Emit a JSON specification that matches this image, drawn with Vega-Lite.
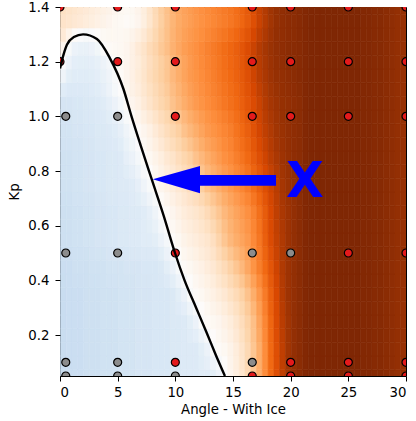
{
  "$schema": "https://vega.github.io/schema/vega-lite/v6.json",
  "width": 346,
  "height": 369,
  "autosize": {"type": "none"},
  "padding": {"left": 60, "top": 7, "right": 10, "bottom": 45},
  "background": "white",
  "config": {
    "font": "DejaVu Sans",
    "view": {"stroke": "#000000", "strokeWidth": 1},
    "axis": {
      "domain": false,
      "grid": false,
      "labelFont": "DejaVu Sans",
      "labelFontSize": 13.3,
      "labelColor": "#000000",
      "titleFont": "DejaVu Sans",
      "titleFontSize": 13.3,
      "titleFontWeight": "normal",
      "titleColor": "#000000",
      "tickColor": "#000000",
      "tickSize": 5,
      "tickWidth": 1
    },
    "axisX": {"labelPadding": 4, "titlePadding": 4},
    "axisY": {"labelPadding": 6, "titlePadding": 6}
  },
  "datasets": {
    "bg": [
      {"kp": 0.025, "angle": [0,0.5,1,1.5,2,2.5,3,3.5,4,4.5,5,5.5,6,6.5,7,7.5,8,8.5,9,9.5,10,10.5,11,11.5,12,12.5,13,13.5,14,14.5,15,15.5,16,16.5,17,17.5,18,18.5,19,19.5,20,20.5,21,21.5,22,22.5,23,23.5,24,24.5,25,25.5,26,26.5,27,27.5,28,28.5,29,29.5],
       "v": [-1.9,-1.8,-1.8,-1.8,-1.7,-1.7,-1.7,-1.6,-1.6,-1.6,-1.5,-1.5,-1.5,-1.4,-1.4,-1.4,-1.3,-1.3,-1.3,-1.2,-1.2,-1.1,-1.1,-1.1,-1.0,-1.0,-0.9,-0.6,-0.1,0.3,0.6,1.0,1.6,2.3,3.0,4.0,5.0,5.8,6.5,7.1,7.5,7.7,7.9,8,8,8,8,8,8,8,8,8,7.9,7.9,7.8,7.8,7.7,7.6,7.5,7.4]},
      {"kp": 0.075, "angle": [0,0.5,1,1.5,2,2.5,3,3.5,4,4.5,5,5.5,6,6.5,7,7.5,8,8.5,9,9.5,10,10.5,11,11.5,12,12.5,13,13.5,14,14.5,15,15.5,16,16.5,17,17.5,18,18.5,19,19.5,20,20.5,21,21.5,22,22.5,23,23.5,24,24.5,25,25.5,26,26.5,27,27.5,28,28.5,29,29.5],
       "v": [-1.9,-1.8,-1.8,-1.8,-1.7,-1.7,-1.7,-1.6,-1.6,-1.6,-1.5,-1.5,-1.5,-1.4,-1.4,-1.4,-1.3,-1.3,-1.3,-1.2,-1.2,-1.1,-1.1,-1.1,-0.95,-0.8,-0.5,-0.25,0.05,0.35,0.65,1.05,1.6,2.3,3.0,4.0,5.0,5.8,6.5,7.1,7.5,7.7,7.9,8,8,8,8,8,8,8,8,8,7.9,7.9,7.8,7.8,7.7,7.6,7.5,7.4]},
      {"kp": 0.125, "angle": [0,0.5,1,1.5,2,2.5,3,3.5,4,4.5,5,5.5,6,6.5,7,7.5,8,8.5,9,9.5,10,10.5,11,11.5,12,12.5,13,13.5,14,14.5,15,15.5,16,16.5,17,17.5,18,18.5,19,19.5,20,20.5,21,21.5,22,22.5,23,23.5,24,24.5,25,25.5,26,26.5,27,27.5,28,28.5,29,29.5],
       "v": [-1.9,-1.8,-1.8,-1.8,-1.7,-1.7,-1.7,-1.6,-1.6,-1.6,-1.5,-1.5,-1.5,-1.4,-1.4,-1.4,-1.3,-1.3,-1.3,-1.2,-1.2,-1.1,-1.1,-1.1,-0.9,-0.6,-0.15,0.1,0.2,0.4,0.7,1.1,1.6,2.3,3.0,4.0,5.0,5.8,6.5,7.1,7.5,7.7,7.9,8,8,8,8,8,8,8,8,8,7.9,7.9,7.8,7.8,7.7,7.6,7.5,7.4]},
      {"kp": 0.175, "angle": [0,0.5,1,1.5,2,2.5,3,3.5,4,4.5,5,5.5,6,6.5,7,7.5,8,8.5,9,9.5,10,10.5,11,11.5,12,12.5,13,13.5,14,14.5,15,15.5,16,16.5,17,17.5,18,18.5,19,19.5,20,20.5,21,21.5,22,22.5,23,23.5,24,24.5,25,25.5,26,26.5,27,27.5,28,28.5,29,29.5],
       "v": [-1.9,-1.8,-1.8,-1.8,-1.7,-1.7,-1.7,-1.6,-1.6,-1.6,-1.5,-1.5,-1.5,-1.4,-1.4,-1.4,-1.3,-1.3,-1.3,-1.2,-1.2,-1.1,-1.0,-0.85,-0.55,-0.25,0.03,0.2,0.35,0.55,0.85,1.25,1.75,2.4,3.15,4.1,5.05,5.85,6.55,7.1,7.5,7.7,7.9,8,8,8,8,8,8,8,8,8,7.9,7.9,7.8,7.8,7.7,7.6,7.5,7.4]},
      {"kp": 0.225, "angle": [0,0.5,1,1.5,2,2.5,3,3.5,4,4.5,5,5.5,6,6.5,7,7.5,8,8.5,9,9.5,10,10.5,11,11.5,12,12.5,13,13.5,14,14.5,15,15.5,16,16.5,17,17.5,18,18.5,19,19.5,20,20.5,21,21.5,22,22.5,23,23.5,24,24.5,25,25.5,26,26.5,27,27.5,28,28.5,29,29.5],
       "v": [-1.9,-1.8,-1.8,-1.8,-1.7,-1.7,-1.7,-1.6,-1.6,-1.6,-1.5,-1.5,-1.5,-1.4,-1.4,-1.4,-1.3,-1.3,-1.3,-1.2,-1.2,-1.1,-0.9,-0.6,-0.15,0.1,0.2,0.3,0.5,0.7,1.0,1.4,1.9,2.5,3.3,4.2,5.1,5.9,6.6,7.1,7.5,7.7,7.9,8,8,8,8,8,8,8,8,8,7.9,7.9,7.8,7.8,7.7,7.6,7.5,7.4]},
      {"kp": 0.275, "angle": [0,0.5,1,1.5,2,2.5,3,3.5,4,4.5,5,5.5,6,6.5,7,7.5,8,8.5,9,9.5,10,10.5,11,11.5,12,12.5,13,13.5,14,14.5,15,15.5,16,16.5,17,17.5,18,18.5,19,19.5,20,20.5,21,21.5,22,22.5,23,23.5,24,24.5,25,25.5,26,26.5,27,27.5,28,28.5,29,29.5],
       "v": [-1.9,-1.8,-1.8,-1.8,-1.7,-1.7,-1.7,-1.6,-1.6,-1.6,-1.5,-1.5,-1.5,-1.4,-1.4,-1.4,-1.3,-1.3,-1.3,-1.2,-1.05,-0.85,-0.55,-0.25,0.03,0.2,0.35,0.5,0.7,0.95,1.25,1.65,2.15,2.75,3.5,4.35,5.2,5.95,6.65,7.15,7.5,7.7,7.9,8,8,8,8,8,8,8,8,8,7.9,7.9,7.8,7.8,7.7,7.6,7.5,7.4]},
      {"kp": 0.325, "angle": [0,0.5,1,1.5,2,2.5,3,3.5,4,4.5,5,5.5,6,6.5,7,7.5,8,8.5,9,9.5,10,10.5,11,11.5,12,12.5,13,13.5,14,14.5,15,15.5,16,16.5,17,17.5,18,18.5,19,19.5,20,20.5,21,21.5,22,22.5,23,23.5,24,24.5,25,25.5,26,26.5,27,27.5,28,28.5,29,29.5],
       "v": [-1.9,-1.8,-1.8,-1.8,-1.7,-1.7,-1.7,-1.6,-1.6,-1.6,-1.5,-1.5,-1.5,-1.4,-1.4,-1.4,-1.3,-1.3,-1.3,-1.2,-0.9,-0.6,-0.15,0.1,0.2,0.35,0.5,0.7,0.9,1.2,1.5,1.9,2.4,3.0,3.7,4.5,5.3,6.0,6.7,7.2,7.5,7.7,7.9,8,8,8,8,8,8,8,8,8,7.9,7.9,7.8,7.8,7.7,7.6,7.5,7.4]},
      {"kp": 0.375, "angle": [0,0.5,1,1.5,2,2.5,3,3.5,4,4.5,5,5.5,6,6.5,7,7.5,8,8.5,9,9.5,10,10.5,11,11.5,12,12.5,13,13.5,14,14.5,15,15.5,16,16.5,17,17.5,18,18.5,19,19.5,20,20.5,21,21.5,22,22.5,23,23.5,24,24.5,25,25.5,26,26.5,27,27.5,28,28.5,29,29.5],
       "v": [-1.85,-1.8,-1.75,-1.75,-1.7,-1.65,-1.65,-1.6,-1.55,-1.55,-1.5,-1.45,-1.45,-1.4,-1.35,-1.35,-1.3,-1.25,-1.1,-0.9,-0.55,-0.25,0.03,0.22,0.35,0.52,0.7,0.95,1.2,1.55,1.9,2.3,2.8,3.4,4.05,4.75,5.45,6.1,6.75,7.2,7.5,7.7,7.9,8,8,8,8,8,8,8,8,8,7.9,7.9,7.8,7.8,7.7,7.6,7.5,7.4]},
      {"kp": 0.425, "angle": [0,0.5,1,1.5,2,2.5,3,3.5,4,4.5,5,5.5,6,6.5,7,7.5,8,8.5,9,9.5,10,10.5,11,11.5,12,12.5,13,13.5,14,14.5,15,15.5,16,16.5,17,17.5,18,18.5,19,19.5,20,20.5,21,21.5,22,22.5,23,23.5,24,24.5,25,25.5,26,26.5,27,27.5,28,28.5,29,29.5],
       "v": [-1.8,-1.8,-1.7,-1.7,-1.7,-1.6,-1.6,-1.6,-1.5,-1.5,-1.5,-1.4,-1.4,-1.4,-1.3,-1.3,-1.3,-1.2,-0.9,-0.6,-0.2,0.1,0.2,0.35,0.5,0.7,0.9,1.2,1.5,1.9,2.3,2.7,3.2,3.8,4.4,5.0,5.6,6.2,6.8,7.2,7.5,7.7,7.9,8,8,8,8,8,8,8,8,8,7.9,7.9,7.8,7.8,7.7,7.6,7.5,7.4]},
      {"kp": 0.475, "angle": [0,0.5,1,1.5,2,2.5,3,3.5,4,4.5,5,5.5,6,6.5,7,7.5,8,8.5,9,9.5,10,10.5,11,11.5,12,12.5,13,13.5,14,14.5,15,15.5,16,16.5,17,17.5,18,18.5,19,19.5,20,20.5,21,21.5,22,22.5,23,23.5,24,24.5,25,25.5,26,26.5,27,27.5,28,28.5,29,29.5],
       "v": [-1.75,-1.75,-1.65,-1.65,-1.6,-1.55,-1.5,-1.5,-1.4,-1.4,-1.35,-1.3,-1.25,-1.25,-1.15,-1.15,-1.1,-0.9,-0.6,-0.28,0,0.25,0.38,0.52,0.68,0.85,1.1,1.5,1.9,2.3,2.65,3.0,3.4,3.95,4.5,5.15,5.75,6.3,6.8,7.2,7.5,7.7,7.9,8,8,8,8,8,8,8,8,8,7.9,7.9,7.8,7.8,7.7,7.6,7.5,7.4]},
      {"kp": 0.525, "angle": [0,0.5,1,1.5,2,2.5,3,3.5,4,4.5,5,5.5,6,6.5,7,7.5,8,8.5,9,9.5,10,10.5,11,11.5,12,12.5,13,13.5,14,14.5,15,15.5,16,16.5,17,17.5,18,18.5,19,19.5,20,20.5,21,21.5,22,22.5,23,23.5,24,24.5,25,25.5,26,26.5,27,27.5,28,28.5,29,29.5],
       "v": [-1.7,-1.7,-1.6,-1.6,-1.5,-1.5,-1.4,-1.4,-1.3,-1.3,-1.2,-1.2,-1.1,-1.1,-1.0,-1.0,-0.9,-0.6,-0.3,0.05,0.2,0.4,0.55,0.7,0.85,1.0,1.3,1.8,2.3,2.7,3.0,3.3,3.6,4.1,4.6,5.3,5.9,6.4,6.8,7.2,7.5,7.7,7.9,8,8,8,8,8,8,8,8,8,7.9,7.9,7.8,7.8,7.7,7.6,7.5,7.4]},
      {"kp": 0.575, "angle": [0,0.5,1,1.5,2,2.5,3,3.5,4,4.5,5,5.5,6,6.5,7,7.5,8,8.5,9,9.5,10,10.5,11,11.5,12,12.5,13,13.5,14,14.5,15,15.5,16,16.5,17,17.5,18,18.5,19,19.5,20,20.5,21,21.5,22,22.5,23,23.5,24,24.5,25,25.5,26,26.5,27,27.5,28,28.5,29,29.5],
       "v": [-1.7,-1.7,-1.6,-1.6,-1.5,-1.5,-1.4,-1.4,-1.3,-1.3,-1.2,-1.2,-1.1,-1.1,-1.0,-0.9,-0.7,-0.35,-0.1,0.18,0.35,0.55,0.7,0.85,1.02,1.25,1.6,2.05,2.5,2.85,3.15,3.45,3.75,4.2,4.7,5.35,5.95,6.45,6.85,7.2,7.5,7.7,7.9,8,8,8,8,8,8,8,8,8,7.9,7.9,7.8,7.8,7.7,7.6,7.5,7.4]},
      {"kp": 0.625, "angle": [0,0.5,1,1.5,2,2.5,3,3.5,4,4.5,5,5.5,6,6.5,7,7.5,8,8.5,9,9.5,10,10.5,11,11.5,12,12.5,13,13.5,14,14.5,15,15.5,16,16.5,17,17.5,18,18.5,19,19.5,20,20.5,21,21.5,22,22.5,23,23.5,24,24.5,25,25.5,26,26.5,27,27.5,28,28.5,29,29.5],
       "v": [-1.7,-1.7,-1.6,-1.6,-1.5,-1.5,-1.4,-1.4,-1.3,-1.3,-1.2,-1.2,-1.1,-1.1,-1.0,-0.8,-0.5,-0.1,0.1,0.3,0.5,0.7,0.85,1.0,1.2,1.5,1.9,2.3,2.7,3.0,3.3,3.6,3.9,4.3,4.8,5.4,6.0,6.5,6.9,7.2,7.5,7.7,7.9,8,8,8,8,8,8,8,8,8,7.9,7.9,7.8,7.8,7.7,7.6,7.5,7.4]},
      {"kp": 0.675, "angle": [0,0.5,1,1.5,2,2.5,3,3.5,4,4.5,5,5.5,6,6.5,7,7.5,8,8.5,9,9.5,10,10.5,11,11.5,12,12.5,13,13.5,14,14.5,15,15.5,16,16.5,17,17.5,18,18.5,19,19.5,20,20.5,21,21.5,22,22.5,23,23.5,24,24.5,25,25.5,26,26.5,27,27.5,28,28.5,29,29.5],
       "v": [-1.65,-1.65,-1.55,-1.55,-1.45,-1.45,-1.35,-1.35,-1.25,-1.25,-1.15,-1.15,-1.05,-0.95,-0.75,-0.5,-0.2,0.1,0.3,0.5,0.7,0.9,1.12,1.35,1.6,1.95,2.3,2.65,3.0,3.3,3.6,3.9,4.2,4.6,5.05,5.6,6.1,6.55,6.95,7.25,7.5,7.7,7.9,8,8,8,8,8,8,8,8,8,7.9,7.9,7.8,7.8,7.7,7.6,7.5,7.4]},
      {"kp": 0.725, "angle": [0,0.5,1,1.5,2,2.5,3,3.5,4,4.5,5,5.5,6,6.5,7,7.5,8,8.5,9,9.5,10,10.5,11,11.5,12,12.5,13,13.5,14,14.5,15,15.5,16,16.5,17,17.5,18,18.5,19,19.5,20,20.5,21,21.5,22,22.5,23,23.5,24,24.5,25,25.5,26,26.5,27,27.5,28,28.5,29,29.5],
       "v": [-1.6,-1.6,-1.5,-1.5,-1.4,-1.4,-1.3,-1.3,-1.2,-1.2,-1.1,-1.1,-1.0,-0.8,-0.5,-0.2,0.1,0.3,0.5,0.7,0.9,1.1,1.4,1.7,2.0,2.4,2.7,3.0,3.3,3.6,3.9,4.2,4.5,4.9,5.3,5.8,6.2,6.6,7.0,7.3,7.5,7.7,7.9,8,8,8,8,8,8,8,8,8,7.9,7.9,7.8,7.8,7.7,7.6,7.5,7.4]},
      {"kp": 0.775, "angle": [0,0.5,1,1.5,2,2.5,3,3.5,4,4.5,5,5.5,6,6.5,7,7.5,8,8.5,9,9.5,10,10.5,11,11.5,12,12.5,13,13.5,14,14.5,15,15.5,16,16.5,17,17.5,18,18.5,19,19.5,20,20.5,21,21.5,22,22.5,23,23.5,24,24.5,25,25.5,26,26.5,27,27.5,28,28.5,29,29.5],
       "v": [-1.6,-1.6,-1.5,-1.5,-1.4,-1.4,-1.3,-1.3,-1.2,-1.2,-1.1,-0.95,-0.8,-0.55,-0.22,0,0.25,0.45,0.7,0.9,1.15,1.4,1.7,2.05,2.35,2.7,3.0,3.3,3.6,3.85,4.15,4.45,4.75,5.15,5.55,6.0,6.4,6.75,7.1,7.35,7.55,7.7,7.9,8,8,8,8,8,8,8,8,8,7.9,7.9,7.8,7.8,7.7,7.6,7.5,7.4]},
      {"kp": 0.825, "angle": [0,0.5,1,1.5,2,2.5,3,3.5,4,4.5,5,5.5,6,6.5,7,7.5,8,8.5,9,9.5,10,10.5,11,11.5,12,12.5,13,13.5,14,14.5,15,15.5,16,16.5,17,17.5,18,18.5,19,19.5,20,20.5,21,21.5,22,22.5,23,23.5,24,24.5,25,25.5,26,26.5,27,27.5,28,28.5,29,29.5],
       "v": [-1.6,-1.6,-1.5,-1.5,-1.4,-1.4,-1.3,-1.3,-1.2,-1.2,-1.1,-0.8,-0.6,-0.3,0.05,0.2,0.4,0.6,0.9,1.1,1.4,1.7,2.0,2.4,2.7,3.0,3.3,3.6,3.9,4.1,4.4,4.7,5.0,5.4,5.8,6.2,6.6,6.9,7.2,7.4,7.6,7.7,7.9,8,8,8,8,8,8,8,8,8,7.9,7.9,7.8,7.8,7.7,7.6,7.5,7.4]},
      {"kp": 0.875, "angle": [0,0.5,1,1.5,2,2.5,3,3.5,4,4.5,5,5.5,6,6.5,7,7.5,8,8.5,9,9.5,10,10.5,11,11.5,12,12.5,13,13.5,14,14.5,15,15.5,16,16.5,17,17.5,18,18.5,19,19.5,20,20.5,21,21.5,22,22.5,23,23.5,24,24.5,25,25.5,26,26.5,27,27.5,28,28.5,29,29.5],
       "v": [-1.55,-1.55,-1.45,-1.45,-1.35,-1.35,-1.25,-1.25,-1.15,-1.1,-0.95,-0.65,-0.4,-0.1,0.18,0.35,0.6,0.85,1.15,1.4,1.7,2.05,2.35,2.7,3.0,3.3,3.55,3.8,4.05,4.25,4.55,4.85,5.15,5.55,5.95,6.35,6.7,7.0,7.25,7.45,7.6,7.7,7.9,8,8,8,8,8,8,8,8,8,7.9,7.9,7.8,7.8,7.7,7.6,7.5,7.4]},
      {"kp": 0.925, "angle": [0,0.5,1,1.5,2,2.5,3,3.5,4,4.5,5,5.5,6,6.5,7,7.5,8,8.5,9,9.5,10,10.5,11,11.5,12,12.5,13,13.5,14,14.5,15,15.5,16,16.5,17,17.5,18,18.5,19,19.5,20,20.5,21,21.5,22,22.5,23,23.5,24,24.5,25,25.5,26,26.5,27,27.5,28,28.5,29,29.5],
       "v": [-1.5,-1.5,-1.4,-1.4,-1.3,-1.3,-1.2,-1.2,-1.1,-1.0,-0.8,-0.5,-0.2,0.1,0.3,0.5,0.8,1.1,1.4,1.7,2.0,2.4,2.7,3.0,3.3,3.6,3.8,4.0,4.2,4.4,4.7,5.0,5.3,5.7,6.1,6.5,6.8,7.1,7.3,7.5,7.6,7.7,7.9,8,8,8,8,8,8,8,8,8,7.9,7.9,7.8,7.8,7.7,7.6,7.5,7.4]},
      {"kp": 0.975, "angle": [0,0.5,1,1.5,2,2.5,3,3.5,4,4.5,5,5.5,6,6.5,7,7.5,8,8.5,9,9.5,10,10.5,11,11.5,12,12.5,13,13.5,14,14.5,15,15.5,16,16.5,17,17.5,18,18.5,19,19.5,20,20.5,21,21.5,22,22.5,23,23.5,24,24.5,25,25.5,26,26.5,27,27.5,28,28.5,29,29.5],
       "v": [-1.45,-1.45,-1.35,-1.35,-1.25,-1.25,-1.15,-1.1,-0.95,-0.8,-0.55,-0.2,0.05,0.3,0.55,0.8,1.1,1.4,1.7,2.05,2.35,2.7,3.0,3.3,3.55,3.8,4.0,4.2,4.4,4.6,4.85,5.15,5.45,5.8,6.2,6.6,6.9,7.15,7.35,7.5,7.6,7.7,7.9,8,8,8,8,8,8,8,8,8,7.9,7.9,7.8,7.8,7.7,7.6,7.5,7.4]},
      {"kp": 1.025, "angle": [0,0.5,1,1.5,2,2.5,3,3.5,4,4.5,5,5.5,6,6.5,7,7.5,8,8.5,9,9.5,10,10.5,11,11.5,12,12.5,13,13.5,14,14.5,15,15.5,16,16.5,17,17.5,18,18.5,19,19.5,20,20.5,21,21.5,22,22.5,23,23.5,24,24.5,25,25.5,26,26.5,27,27.5,28,28.5,29,29.5],
       "v": [-1.4,-1.4,-1.3,-1.3,-1.2,-1.2,-1.1,-1.0,-0.8,-0.6,-0.3,0.1,0.3,0.5,0.8,1.1,1.4,1.7,2.0,2.4,2.7,3.0,3.3,3.6,3.8,4.0,4.2,4.4,4.6,4.8,5.0,5.3,5.6,5.9,6.3,6.7,7.0,7.2,7.4,7.5,7.6,7.7,7.9,8,8,8,8,8,8,8,8,8,7.9,7.9,7.8,7.8,7.7,7.6,7.5,7.4]},
      {"kp": 1.075, "angle": [0,0.5,1,1.5,2,2.5,3,3.5,4,4.5,5,5.5,6,6.5,7,7.5,8,8.5,9,9.5,10,10.5,11,11.5,12,12.5,13,13.5,14,14.5,15,15.5,16,16.5,17,17.5,18,18.5,19,19.5,20,20.5,21,21.5,22,22.5,23,23.5,24,24.5,25,25.5,26,26.5,27,27.5,28,28.5,29,29.5],
       "v": [-1.0,-1.15,-1.15,-1.15,-1.1,-1.05,-0.95,-0.8,-0.55,-0.28,-0.05,0.25,0.45,0.65,0.95,1.25,1.55,1.85,2.15,2.55,2.85,3.15,3.45,3.7,3.9,4.1,4.3,4.5,4.7,4.9,5.1,5.4,5.7,6.05,6.45,6.8,7.1,7.3,7.45,7.55,7.65,7.75,7.9,8,8,8,8,8,8,8,8,8,7.9,7.9,7.8,7.8,7.7,7.6,7.5,7.4]},
      {"kp": 1.125, "angle": [0,0.5,1,1.5,2,2.5,3,3.5,4,4.5,5,5.5,6,6.5,7,7.5,8,8.5,9,9.5,10,10.5,11,11.5,12,12.5,13,13.5,14,14.5,15,15.5,16,16.5,17,17.5,18,18.5,19,19.5,20,20.5,21,21.5,22,22.5,23,23.5,24,24.5,25,25.5,26,26.5,27,27.5,28,28.5,29,29.5],
       "v": [-0.5,-0.9,-1.0,-1.0,-1.0,-0.95,-0.85,-0.7,-0.5,-0.2,0.1,0.3,0.5,0.75,1.05,1.4,1.7,2.0,2.3,2.7,3.0,3.3,3.6,3.8,4.0,4.2,4.4,4.6,4.8,5.0,5.2,5.5,5.8,6.2,6.6,6.9,7.2,7.4,7.5,7.6,7.7,7.8,7.9,8,8,8,8,8,8,8,8,8,7.9,7.9,7.8,7.8,7.7,7.6,7.5,7.4]},
      {"kp": 1.175, "angle": [0,0.5,1,1.5,2,2.5,3,3.5,4,4.5,5,5.5,6,6.5,7,7.5,8,8.5,9,9.5,10,10.5,11,11.5,12,12.5,13,13.5,14,14.5,15,15.5,16,16.5,17,17.5,18,18.5,19,19.5,20,20.5,21,21.5,22,22.5,23,23.5,24,24.5,25,25.5,26,26.5,27,27.5,28,28.5,29,29.5],
       "v": [-0.1,-0.6,-0.85,-0.9,-0.9,-0.85,-0.75,-0.55,-0.3,0.05,0.15,0.3,0.5,0.7,1.0,1.35,1.65,2.0,2.3,2.7,3.0,3.3,3.6,3.85,4.05,4.25,4.45,4.65,4.85,5.05,5.25,5.55,5.85,6.25,6.65,6.95,7.25,7.45,7.55,7.65,7.7,7.8,7.9,8,8,8,8,8,8,8,8,8,7.9,7.9,7.8,7.8,7.7,7.6,7.5,7.4]},
      {"kp": 1.225, "angle": [0,0.5,1,1.5,2,2.5,3,3.5,4,4.5,5,5.5,6,6.5,7,7.5,8,8.5,9,9.5,10,10.5,11,11.5,12,12.5,13,13.5,14,14.5,15,15.5,16,16.5,17,17.5,18,18.5,19,19.5,20,20.5,21,21.5,22,22.5,23,23.5,24,24.5,25,25.5,26,26.5,27,27.5,28,28.5,29,29.5],
       "v": [0.3,-0.2,-0.6,-0.7,-0.7,-0.6,-0.4,-0.05,0.1,0.15,0.2,0.3,0.5,0.8,1.1,1.5,1.8,2.2,2.5,2.9,3.2,3.5,3.7,3.9,4.1,4.3,4.5,4.7,4.9,5.1,5.3,5.6,5.9,6.3,6.7,7.0,7.3,7.5,7.6,7.7,7.75,7.8,7.9,8,8,8,8,8,8,8,8,8,7.9,7.9,7.8,7.8,7.7,7.6,7.5,7.4]},
      {"kp": 1.275, "angle": [0,0.5,1,1.5,2,2.5,3,3.5,4,4.5,5,5.5,6,6.5,7,7.5,8,8.5,9,9.5,10,10.5,11,11.5,12,12.5,13,13.5,14,14.5,15,15.5,16,16.5,17,17.5,18,18.5,19,19.5,20,20.5,21,21.5,22,22.5,23,23.5,24,24.5,25,25.5,26,26.5,27,27.5,28,28.5,29,29.5],
       "v": [0.8,0.4,0.1,-0.1,-0.2,-0.1,0.05,0.15,0.2,0.2,0.2,0.25,0.35,0.55,0.85,1.25,1.65,2.1,2.45,2.85,3.15,3.4,3.6,3.8,3.95,4.15,4.3,4.5,4.65,4.85,5.05,5.35,5.65,6.05,6.5,6.85,7.2,7.45,7.55,7.65,7.7,7.8,7.9,8,8,8,8,8,8,8,8,8,7.9,7.9,7.8,7.8,7.7,7.6,7.5,7.4]},
      {"kp": 1.325, "angle": [0,0.5,1,1.5,2,2.5,3,3.5,4,4.5,5,5.5,6,6.5,7,7.5,8,8.5,9,9.5,10,10.5,11,11.5,12,12.5,13,13.5,14,14.5,15,15.5,16,16.5,17,17.5,18,18.5,19,19.5,20,20.5,21,21.5,22,22.5,23,23.5,24,24.5,25,25.5,26,26.5,27,27.5,28,28.5,29,29.5],
       "v": [1.1,1.0,0.9,0.8,0.7,0.6,0.5,0.4,0.3,0.2,0.15,0.1,0.15,0.3,0.6,1.0,1.5,2.0,2.4,2.8,3.1,3.3,3.5,3.7,3.85,4.0,4.15,4.3,4.45,4.6,4.8,5.1,5.4,5.8,6.3,6.7,7.1,7.4,7.55,7.65,7.7,7.8,7.9,8,8,8,8,8,8,8,8,8,7.9,7.9,7.8,7.8,7.7,7.6,7.5,7.4]},
      {"kp": 1.375, "angle": [0,0.5,1,1.5,2,2.5,3,3.5,4,4.5,5,5.5,6,6.5,7,7.5,8,8.5,9,9.5,10,10.5,11,11.5,12,12.5,13,13.5,14,14.5,15,15.5,16,16.5,17,17.5,18,18.5,19,19.5,20,20.5,21,21.5,22,22.5,23,23.5,24,24.5,25,25.5,26,26.5,27,27.5,28,28.5,29,29.5],
       "v": [1.2,1.1,1.0,0.9,0.8,0.7,0.6,0.5,0.4,0.3,0.2,0.15,0.2,0.35,0.65,1.05,1.55,2.05,2.45,2.85,3.15,3.35,3.55,3.75,3.9,4.05,4.2,4.35,4.5,4.65,4.85,5.15,5.45,5.85,6.35,6.75,7.15,7.4,7.55,7.65,7.7,7.8,7.9,8,8,8,8,8,8,8,8,8,7.9,7.9,7.8,7.8,7.7,7.6,7.5,7.4]}
    ],
    "runs": [
      {"angle": 0, "kp": 1.4, "result": "unstable"},
      {"angle": 5, "kp": 1.4, "result": "unstable"},
      {"angle": 10, "kp": 1.4, "result": "unstable"},
      {"angle": 16.67, "kp": 1.4, "result": "unstable"},
      {"angle": 20, "kp": 1.4, "result": "unstable"},
      {"angle": 25, "kp": 1.4, "result": "unstable"},
      {"angle": 30, "kp": 1.4, "result": "unstable"},
      {"angle": 0, "kp": 1.2, "result": "unstable"},
      {"angle": 5, "kp": 1.2, "result": "unstable"},
      {"angle": 10, "kp": 1.2, "result": "unstable"},
      {"angle": 16.67, "kp": 1.2, "result": "unstable"},
      {"angle": 20, "kp": 1.2, "result": "unstable"},
      {"angle": 25, "kp": 1.2, "result": "unstable"},
      {"angle": 30, "kp": 1.2, "result": "unstable"},
      {"angle": 0.5, "kp": 1.0, "result": "stable"},
      {"angle": 5, "kp": 1.0, "result": "stable"},
      {"angle": 10, "kp": 1.0, "result": "unstable"},
      {"angle": 16.67, "kp": 1.0, "result": "unstable"},
      {"angle": 20, "kp": 1.0, "result": "unstable"},
      {"angle": 25, "kp": 1.0, "result": "unstable"},
      {"angle": 30, "kp": 1.0, "result": "unstable"},
      {"angle": 0.5, "kp": 0.5, "result": "stable"},
      {"angle": 5, "kp": 0.5, "result": "stable"},
      {"angle": 10, "kp": 0.5, "result": "unstable"},
      {"angle": 16.67, "kp": 0.5, "result": "stable"},
      {"angle": 20, "kp": 0.5, "result": "stable"},
      {"angle": 25, "kp": 0.5, "result": "unstable"},
      {"angle": 30, "kp": 0.5, "result": "unstable"},
      {"angle": 0.5, "kp": 0.1, "result": "stable"},
      {"angle": 5, "kp": 0.1, "result": "stable"},
      {"angle": 10, "kp": 0.1, "result": "unstable"},
      {"angle": 16.67, "kp": 0.1, "result": "stable"},
      {"angle": 20, "kp": 0.1, "result": "unstable"},
      {"angle": 25, "kp": 0.1, "result": "unstable"},
      {"angle": 30, "kp": 0.1, "result": "unstable"},
      {"angle": 0.5, "kp": 0.05, "result": "stable"},
      {"angle": 5, "kp": 0.05, "result": "stable"},
      {"angle": 10, "kp": 0.05, "result": "stable"},
      {"angle": 16.67, "kp": 0.05, "result": "unstable"},
      {"angle": 20, "kp": 0.05, "result": "unstable"},
      {"angle": 25, "kp": 0.05, "result": "unstable"},
      {"angle": 30, "kp": 0.05, "result": "unstable"}
    ],
    "boundary": [
      {"angle": 0, "kp": 1.175},
      {"angle": 0.3, "kp": 1.225},
      {"angle": 0.6, "kp": 1.262},
      {"angle": 1.2, "kp": 1.29},
      {"angle": 2, "kp": 1.3},
      {"angle": 3.2, "kp": 1.283},
      {"angle": 4.3, "kp": 1.215},
      {"angle": 5.5, "kp": 1.1},
      {"angle": 6.2, "kp": 1.0},
      {"angle": 7.0, "kp": 0.893},
      {"angle": 7.95, "kp": 0.77},
      {"angle": 9.0, "kp": 0.635},
      {"angle": 9.97, "kp": 0.5},
      {"angle": 10.8, "kp": 0.4},
      {"angle": 11.8, "kp": 0.3},
      {"angle": 12.7, "kp": 0.21},
      {"angle": 13.5, "kp": 0.128},
      {"angle": 14.3, "kp": 0.05}
    ]
  },
  "layer": [
    {
      "data": {"name": "bg"},
      "transform": [{"flatten": ["angle", "v"]}],
      "mark": {"type": "rect", "clip": true, "binSpacing": 0, "strokeWidth": 0.6},
      "encoding": {
        "x": {"field": "angle", "type": "quantitative", "bin": {"binned": true, "step": 0.5}, "scale": {"domain": [0, 30], "nice": false, "zero": false}, "axis": {"values": [0, 5, 10, 15, 20, 25, 30], "format": "d", "title": "Angle - With Ice"}},
        "y": {"field": "kp", "type": "quantitative", "bin": {"binned": true, "step": 0.05}, "scale": {"domain": [0.05, 1.4], "nice": false, "zero": false}, "axis": {"values": [0.2, 0.4, 0.6, 0.8, 1.0, 1.2, 1.4], "format": ".1f", "title": "Kp"}},
        "color": {"field": "v", "type": "quantitative", "legend": null, "scale": {"domain": [-2, -1, 0, 1, 2, 3, 4, 5, 6, 7, 8], "range": ["#c6dbef", "#e0ecf7", "#fdfcfb", "#fee6ce", "#fdd0a2", "#fdae6b", "#fd8d3c", "#f16913", "#d94801", "#a63603", "#7f2704"], "interpolate": "rgb"}},
        "stroke": {"field": "v", "type": "quantitative", "legend": null, "scale": {"domain": [-2, -1, 0, 1, 2, 3, 4, 5, 6, 7, 8], "range": ["#c6dbef", "#e0ecf7", "#fdfcfb", "#fee6ce", "#fdd0a2", "#fdae6b", "#fd8d3c", "#f16913", "#d94801", "#a63603", "#7f2704"], "interpolate": "rgb"}}
      }
    },
    {
      "data": {"name": "runs"},
      "mark": {"type": "point", "filled": true, "clip": true, "size": 64, "stroke": "#000000", "strokeWidth": 1.2, "opacity": 1},
      "encoding": {
        "x": {"field": "angle", "type": "quantitative", "scale": {"domain": [0, 30], "nice": false, "zero": false}, "axis": {"values": [0, 5, 10, 15, 20, 25, 30], "format": "d", "title": "Angle - With Ice"}},
        "y": {"field": "kp", "type": "quantitative", "scale": {"domain": [0.05, 1.4], "nice": false, "zero": false}, "axis": {"values": [0.2, 0.4, 0.6, 0.8, 1.0, 1.2, 1.4], "format": ".1f", "title": "Kp"}},
        "fill": {"field": "result", "type": "nominal", "legend": null, "scale": {"domain": ["stable", "unstable"], "range": ["#8c8c8c", "#e41a1c"]}}
      }
    },
    {
      "data": {"name": "boundary"},
      "mark": {"type": "line", "color": "#000000", "strokeWidth": 2.4, "interpolate": "monotone", "clip": true},
      "encoding": {
        "x": {"field": "angle", "type": "quantitative", "scale": {"domain": [0, 30], "nice": false, "zero": false}, "axis": {"values": [0, 5, 10, 15, 20, 25, 30], "format": "d", "title": "Angle - With Ice"}},
        "y": {"field": "kp", "type": "quantitative", "scale": {"domain": [0.05, 1.4], "nice": false, "zero": false}, "axis": {"values": [0.2, 0.4, 0.6, 0.8, 1.0, 1.2, 1.4], "format": ".1f", "title": "Kp"}}
      }
    },
    {
      "data": {"values": [{"angle": 12.1, "angle_end": 18.73, "kp": 0.7854, "kp_end": 0.7462}]},
      "mark": {"type": "rect", "color": "#0000ff"},
      "encoding": {
        "x": {"field": "angle", "type": "quantitative", "scale": {"domain": [0, 30], "nice": false, "zero": false}, "axis": {"values": [0, 5, 10, 15, 20, 25, 30], "format": "d", "title": "Angle - With Ice"}},
        "x2": {"field": "angle_end"},
        "y": {"field": "kp", "type": "quantitative", "scale": {"domain": [0.05, 1.4], "nice": false, "zero": false}, "axis": {"values": [0.2, 0.4, 0.6, 0.8, 1.0, 1.2, 1.4], "format": ".1f", "title": "Kp"}},
        "y2": {"field": "kp_end"}
      }
    },
    {
      "data": {"values": [{"angle": 8.04, "kp": 0.7696, "kp_end": 0.7696}, {"angle": 12.14, "kp": 0.8183, "kp_end": 0.7184}]},
      "mark": {"type": "area", "color": "#0000ff", "opacity": 1},
      "encoding": {
        "x": {"field": "angle", "type": "quantitative", "scale": {"domain": [0, 30], "nice": false, "zero": false}, "axis": {"values": [0, 5, 10, 15, 20, 25, 30], "format": "d", "title": "Angle - With Ice"}},
        "y": {"field": "kp", "type": "quantitative", "scale": {"domain": [0.05, 1.4], "nice": false, "zero": false}, "axis": {"values": [0.2, 0.4, 0.6, 0.8, 1.0, 1.2, 1.4], "format": ".1f", "title": "Kp"}},
        "y2": {"field": "kp_end"}
      }
    },
    {
      "data": {"values": [{"angle": 21.24, "kp": 0.705, "label": "X"}]},
      "mark": {"type": "text", "font": "DejaVu Sans", "fontSize": 49, "fontWeight": "bold", "color": "#0000ff", "align": "center", "baseline": "alphabetic"},
      "encoding": {
        "x": {"field": "angle", "type": "quantitative", "scale": {"domain": [0, 30], "nice": false, "zero": false}, "axis": {"values": [0, 5, 10, 15, 20, 25, 30], "format": "d", "title": "Angle - With Ice"}},
        "y": {"field": "kp", "type": "quantitative", "scale": {"domain": [0.05, 1.4], "nice": false, "zero": false}, "axis": {"values": [0.2, 0.4, 0.6, 0.8, 1.0, 1.2, 1.4], "format": ".1f", "title": "Kp"}},
        "text": {"field": "label"}
      }
    }
  ]
}
